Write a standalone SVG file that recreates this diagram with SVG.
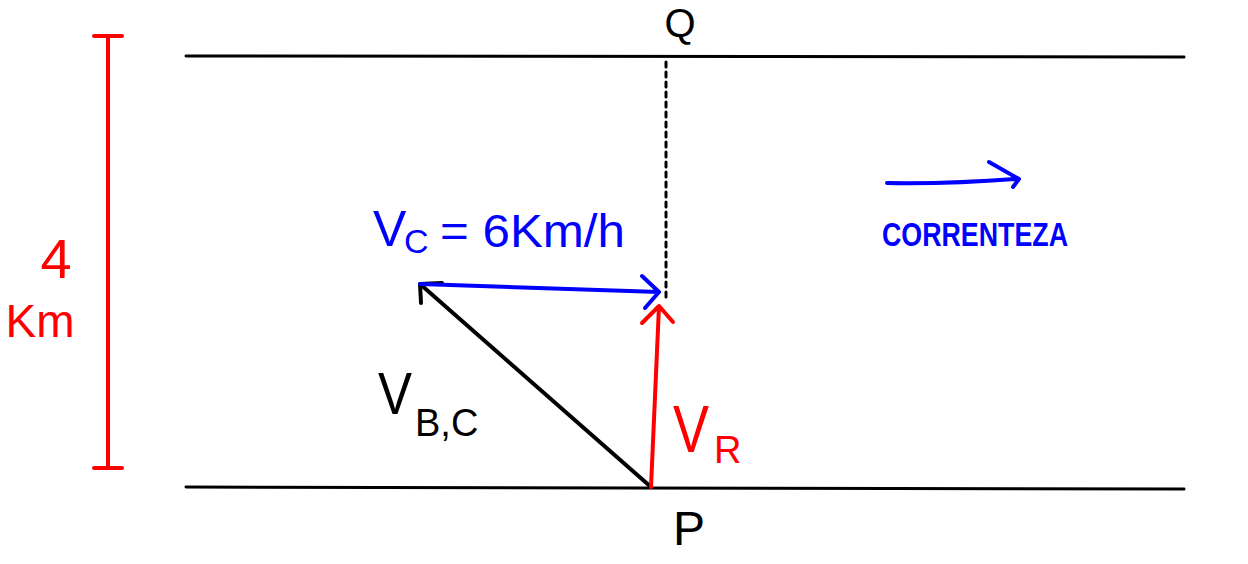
<svg xmlns="http://www.w3.org/2000/svg" width="1248" height="564" viewBox="0 0 1248 564">
<style>
.ln{fill:none;stroke-linecap:round;stroke-linejoin:round}
.k{stroke:#000;stroke-width:3}
.k4{stroke:#000;stroke-width:4}
.r{stroke:#f00;stroke-width:4}
.b{stroke:#00f;stroke-width:4}
.t{font-family:"Liberation Sans",Arial,sans-serif}
.tk{fill:#000}.tr{fill:#f00}.tb{fill:#00f}
</style>
<g id="banks">
<line class="ln k" x1="186" y1="56" x2="1184" y2="57"/>
<line class="ln k" x1="186" y1="487" x2="1184" y2="489"/>
</g>
<g id="width-marker">
<line class="ln r" x1="108" y1="36" x2="108" y2="468"/>
<line class="ln r" x1="94" y1="36" x2="122" y2="36"/>
<line class="ln r" x1="94" y1="468" x2="122" y2="468"/>
<text class="t tr" x="56" y="278" font-size="56" text-anchor="middle">4</text>
<text class="t tr" x="40" y="337" font-size="46" text-anchor="middle">Km</text>
</g>
<g id="connectors">
<line class="ln k" x1="666" y1="62" x2="666" y2="300" stroke-dasharray="5,5"/>
<path class="ln k4" d="M651 487 L420 284 M420 284 L442 283 M420 284 L421 303"/>
<path class="ln b" d="M420 284 L659 292 M642 276 L659 292 L645 308"/>
<path class="ln r" d="M651 487 L659 306 M642 323 L659 306 L673 322"/>
<path class="ln b" d="M887 183 Q950 184 1015 179 M989 162 L1019 179 L1013 187"/>
</g>
<g id="Q"><text class="t tk" x="680" y="37" font-size="40" text-anchor="middle">Q</text></g>
<g id="P"><text class="t tk" x="689" y="545" font-size="48" text-anchor="middle">P</text></g>
<g id="vc-label">
<text class="t tb" x="373" y="246" font-size="50">V</text>
<text class="t tb" x="404" y="253" font-size="34">C</text>
<text class="t tb" x="440" y="247" font-size="46" textLength="185" lengthAdjust="spacingAndGlyphs">= 6Km/h</text>
</g>
<g id="vbc-label">
<text class="t tk" x="378" y="414" font-size="60" textLength="34" lengthAdjust="spacingAndGlyphs">V</text>
<text class="t tk" x="415" y="436" font-size="38">B,C</text>
</g>
<g id="vr-label">
<text class="t tr" font-size="54" transform="translate(673,452) scale(1,1.25)">V</text>
<text class="t tr" x="714" y="463" font-size="38">R</text>
</g>
<g id="current-label">
<text class="t tb" x="882" y="246" font-size="34" font-weight="bold" textLength="186" lengthAdjust="spacingAndGlyphs">CORRENTEZA</text>
</g>
</svg>
